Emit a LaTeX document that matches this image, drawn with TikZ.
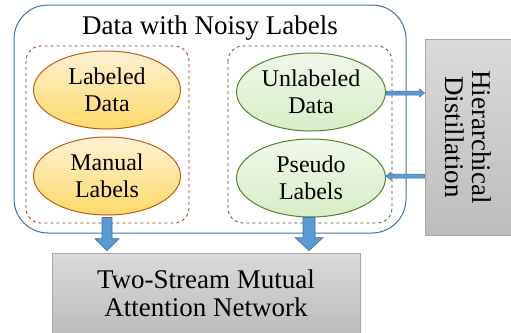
\documentclass[tikz,border=0pt]{standalone}
\usepackage{fontspec}
\setmainfont{Liberation Serif}
\newfontfamily\timesr{Liberation Serif}
\usetikzlibrary{shapes.geometric,calc}
\definecolor{oborder}{HTML}{C55A11}
\definecolor{otop}{HTML}{FFF2D4}
\definecolor{obot}{HTML}{FFD968}
\definecolor{gborder}{HTML}{548235}
\definecolor{gtop}{HTML}{F0F8EA}
\definecolor{gbot}{HTML}{D6EEC6}
\definecolor{bblue}{HTML}{41719C}
\definecolor{fblue}{HTML}{5B9BD5}
\definecolor{dbrown}{HTML}{843C0C}
\definecolor{dgreen}{HTML}{385723}
\definecolor{gyborder}{HTML}{A6A6A6}
\definecolor{gytop}{HTML}{DADADA}
\definecolor{gybot}{HTML}{BDBDBD}
\tikzset{
  bigfont/.style={font=\timesr\fontsize{27}{29}\selectfont},
  ellfont/.style={font=\timesr\fontsize{24}{27}\selectfont},
  orangeell/.style={ellipse, draw=oborder, line width=1pt, top color=otop, bottom color=obot,
    minimum width=147pt, minimum height=78pt, inner sep=0pt, align=center, ellfont},
  greenell/.style={ellipse, draw=gborder, line width=1pt, top color=gtop, bottom color=gbot,
    minimum width=149pt, minimum height=78pt, inner sep=0pt, align=center, ellfont},
  graybox/.style={rectangle, draw=gyborder, line width=0.8pt, top color=gytop, bottom color=gybot,
    inner sep=0pt, align=center, bigfont},
  blockarrow/.style={draw=bblue, fill=fblue, line width=0.6pt, line join=miter},
  outerbox/.style={draw=bblue, line width=1pt, rounded corners=34pt},
}
\begin{document}
\begin{tikzpicture}[x=1pt,y=-1pt]
\useasboundingbox (0,0) rectangle (511,332);
% outer container
\draw[outerbox] (14,5) rectangle (406,233);
\node[bigfont, anchor=center] (title) at (210,28) {Data with Noisy Labels};
% dashed groups
\draw[dbrown, dashed, line width=0.8pt, rounded corners=15pt] (26,46) rectangle (189,223);
\draw[dgreen, dashed, line width=0.8pt, rounded corners=15pt] (228,46) rectangle (392,223);
% ellipses
\node[orangeell] (ld) at (107,90) {Labeled\\Data};
\node[orangeell] (ml) at (107,176) {Manual\\Labels};
\node[greenell] (ud) at (311,92) {Unlabeled\\Data};
\node[greenell] (pl) at (311,178) {Pseudo\\Labels};
% gray boxes
\node[graybox, rotate=-90, minimum width=196pt, minimum height=86pt] (hd) at (468,137)
  {Hierarchical\\[-2pt]Distillation};
\node[graybox, minimum width=308pt, minimum height=80pt] (tsm) at (206,293)
  {Two-Stream Mutual\\[-1pt]Attention Network};
% down block arrows
\path (ml.south) ++(0,2) coordinate (a1);
\path (tsm.north -| a1) coordinate (a1e);
\draw[blockarrow] ($(a1)+(-5,0)$) -- ($(a1e)+(-5,-14)$) -- ($(a1e)+(-12,-14)$) -- ($(a1e)+(0,-2)$)
  -- ($(a1e)+(12,-14)$) -- ($(a1e)+(5,-14)$) -- ($(a1)+(5,0)$) -- cycle;
\path (pl.south) ++(-2,0) coordinate (a2);
\path (tsm.north -| a2) coordinate (a2e);
\draw[blockarrow] ($(a2)+(-6,0)$) -- ($(a2e)+(-6,-15)$) -- ($(a2e)+(-14,-15)$) -- ($(a2e)+(0,-2)$)
  -- ($(a2e)+(14,-15)$) -- ($(a2e)+(6,-15)$) -- ($(a2)+(6,0)$) -- cycle;
% thin horizontal arrows
\path (ud.east) ++(0,1) coordinate (b1);
\path (hd.south |- b1) coordinate (b1e);
\draw[blockarrow, line width=0.5pt] ($(b1)+(0,-2)$) -- ($(b1e)+(-5,-2)$) -- ($(b1e)+(-5,-4)$) -- (b1e)
  -- ($(b1e)+(-5,4)$) -- ($(b1e)+(-5,2)$) -- ($(b1)+(0,2)$) -- cycle;
\path (pl.east) ++(0,-2) coordinate (b2);
\path (hd.south |- b2) coordinate (b2s);
\draw[blockarrow, line width=0.5pt] ($(b2s)+(0,-2)$) -- ($(b2)+(5,-2)$) -- ($(b2)+(5,-4)$) -- (b2)
  -- ($(b2)+(5,4)$) -- ($(b2)+(5,2)$) -- ($(b2s)+(0,2)$) -- cycle;
\end{tikzpicture}
\end{document}
